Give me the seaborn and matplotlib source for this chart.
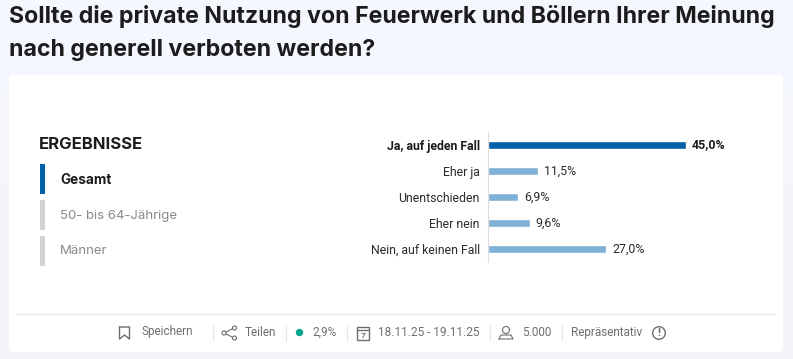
import numpy as np
import pandas as pd
import matplotlib
matplotlib.use('Agg')
import matplotlib.pyplot as plt
from matplotlib.patches import FancyBboxPatch, Rectangle, Circle
import seaborn as sns

# Werte aus dem Bild
antworten = ['Ja, auf jeden Fall', 'Eher ja', 'Unentschieden', 'Eher nein', 'Nein, auf keinen Fall']
werte = [45.0, 11.5, 6.9, 9.6, 27.0]
wert_labels = ['45,0%', '11,5%', '6,9%', '9,6%', '27,0%']
gruppen = ['Gesamt', '50- bis 64-Jährige', 'Männer']

DUNKEL = '#0061a8'
HELL = '#7fb0d6'
TITEL_FONT = ['Inter', 'DejaVu Sans']
sns.set_theme(style='white')
plt.rcParams['font.family'] = ['Roboto', 'DejaVu Sans']

fig = plt.figure(figsize=(7.93, 3.59), dpi=100)

# Hintergrund in Pixelkoordinaten
bg = fig.add_axes([0, 0, 1, 1])
bg.axis('off')
verlauf = np.linspace(0, 1, 100).reshape(-1, 1)
farbe_oben = np.array([245, 248, 255]) / 255
farbe_unten = np.array([243, 244, 247]) / 255
bild = farbe_oben + verlauf[:, :, None] * (farbe_unten - farbe_oben)
bg.imshow(bild, extent=(0, 793, 359, 0), aspect='auto', zorder=0)
bg.set_xlim(0, 793)
bg.set_ylim(359, 0)
bg.add_patch(FancyBboxPatch((9, 75), 774, 277, boxstyle='round,pad=0,rounding_size=5',
                            fc='white', ec='none', zorder=1))

# Titel
bg.text(9, 17, 'Sollte die private Nutzung von Feuerwerk und Böllern Ihrer Meinung',
        fontsize=16.65, fontweight='bold', family=TITEL_FONT, color='#1c1c1c', va='center', zorder=2)
bg.text(9, 50, 'nach generell verboten werden?',
        fontsize=16.65, fontweight='bold', family=TITEL_FONT, color='#1c1c1c', va='center', zorder=2)

# Linke Spalte
bg.text(39, 144.5, 'ERGEBNISSE', fontsize=12, fontweight='bold', family=TITEL_FONT,
        color='#1c1c1c', va='center', zorder=2)
for i, g in enumerate(gruppen):
    y_mitte = 179 + i * 36
    bg.add_patch(Rectangle((40, y_mitte - 15), 5, 30, fc=DUNKEL if i == 0 else '#d2d2d2', ec='none', zorder=2))
    bg.text(60, y_mitte + 0.5, g, fontsize=9.8 if i == 0 else 9.5, family=TITEL_FONT, va='center', zorder=2,
            fontweight='bold' if i == 0 else 'normal', color='#1c1c1c' if i == 0 else '#8a8a8a')

# Balken
ax = fig.add_axes([487.5 / 793, 1 - 262 / 359, 300 / 793, 130 / 359])
ax.patch.set_alpha(0)
df = pd.DataFrame({'antwort': antworten, 'wert': werte})
sns.barplot(data=df, x='wert', y='antwort', hue='antwort', palette=[DUNKEL] + [HELL] * 4,
            width=0.27, legend=False, ax=ax, saturation=1)
ax.set_xlim(0, 300 / 4.4)
ax.set_xlabel('')
ax.set_ylabel('')
ax.set_xticks([])
sns.despine(ax=ax, top=True, right=True, bottom=True)
ax.spines['left'].set_color('#dcdcdc')
ax.spines['left'].set_linewidth(0.8)
ax.tick_params(axis='y', length=0, pad=5.5, labelsize=8.8, labelcolor='#2b2b2b')
for lab in ax.get_yticklabels():
    if lab.get_text() == antworten[0]:
        lab.set_fontweight('bold')
        lab.set_color('#1c1c1c')
for i, (w, t) in enumerate(zip(werte, wert_labels)):
    ax.annotate(t, (w, i), xytext=(4.3, 0), textcoords='offset points', va='center', fontsize=8.9,
                fontweight='bold' if i == 0 else 'normal', color='#1c1c1c' if i == 0 else '#2b2b2b')

# Fusszeile
GRAU = '#6e6e6e'
bg.plot([17, 775], [313.5, 313.5], color='#e6e6e6', lw=1, zorder=2)
for x in [213, 286, 346.5, 489.5, 561.5]:
    bg.plot([x, x], [325, 341], color='#e6e6e6', lw=0.8, zorder=2)
fuss = [(141, 'Speichern', 331.5), (245, 'Teilen', 332.5), (312, '2,9%', 332), (378, '18.11.25 - 19.11.25', 332.5),
        (522, '5.000', 332.5), (570.5, 'Repräsentativ', 332.5)]
for x, t, y in fuss:
    bg.text(x, y, t, fontsize=8.5, color=GRAU, va='center', zorder=2)

# Icons
bg.plot([119.5, 119.5, 124.5, 129.5, 129.5, 119.5], [327, 339, 335, 339, 327, 327], color=GRAU, lw=1, zorder=2)
for a, b in [((224, 333), (234, 328)), ((224, 333), (234, 338))]:
    bg.plot([a[0], b[0]], [a[1], b[1]], color=GRAU, lw=0.8, zorder=2)
for c in [(224, 333), (234.5, 328), (234.5, 338)]:
    bg.add_patch(Circle(c, 2, fc='white', ec=GRAU, lw=0.8, zorder=3))
bg.add_patch(Circle((299.5, 332.5), 3.7, fc='#00a78e', ec='none', zorder=3))
bg.add_patch(Rectangle((357, 327), 12, 13, fc='none', ec=GRAU, lw=1, zorder=3))
bg.plot([357, 369], [330, 330], color=GRAU, lw=1, zorder=3)
bg.text(363, 335.5, '7', fontsize=6, fontweight='bold', color=GRAU, ha='center', va='center', zorder=3)
bg.add_patch(Circle((506, 330), 3.5, fc='none', ec=GRAU, lw=0.8, zorder=3))
bg.plot([499, 501, 511, 513, 499], [339, 335, 335, 339, 339], color=GRAU, lw=0.8, zorder=3)
bg.add_patch(Circle((659, 333), 6.3, fc='none', ec=GRAU, lw=1, zorder=3))
bg.text(659, 332.5, '!', fontsize=8, fontweight='bold', color=GRAU, ha='center', va='center', zorder=4)

fig.savefig('out.png', dpi=100)
